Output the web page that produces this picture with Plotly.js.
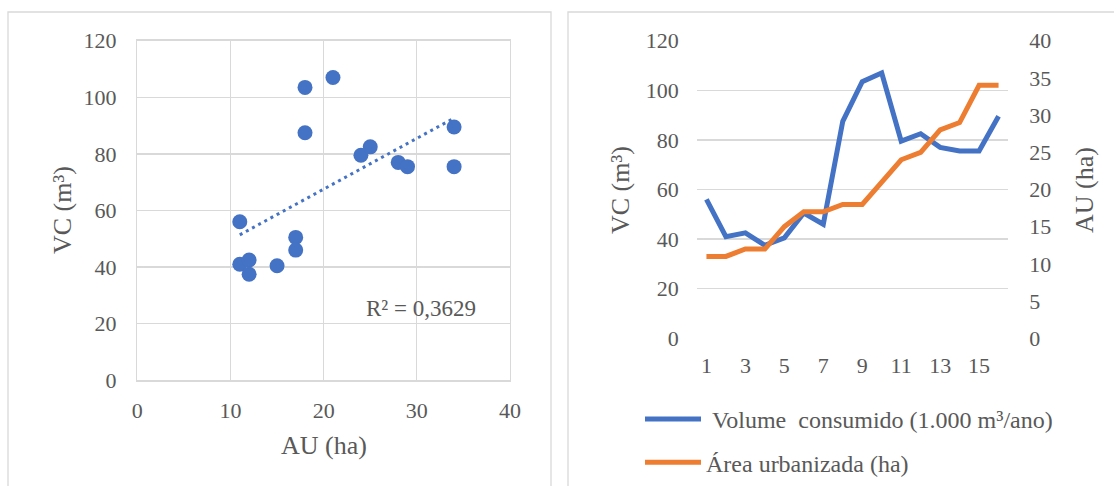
<!DOCTYPE html>
<html>
<head>
<meta charset="utf-8">
<script src="https://cdn.plot.ly/plotly-3.0.1.min.js"></script>
<style>html,body{margin:0;padding:0;background:#fff;}#chart{width:1114px;height:486px;}</style>
</head>
<body>
<div id="chart"></div>
<script>
// ---- data ----
var periods = [1,2,3,4,5,6,7,8,9,10,11,12,13,14,15,16];
var volumeConsumido = [56, 41, 42.5, 37.5, 40.5, 50.5, 46, 87.5, 103.5, 107, 79.5, 82.5, 77, 75.5, 75.5, 89.5];
var areaUrbanizada = [11, 11, 12, 12, 15, 17, 17, 18, 18, 21, 24, 25, 28, 29, 34, 34];
var seriesNames = ["\u00a0Volume\u00a0 consumido (1.000 m\u00b3/ano)", "\u00c1rea urbanizada (ha)"];
var xTicksRight = [1,3,5,7,9,11,13,15];
var r2Label = "R\u00b2 = 0,3629";

// linear trendline from the scatter values (least squares)
function fit(xs, ys){
  var n = xs.length, mx = 0, my = 0;
  for (var i=0;i<n;i++){mx+=xs[i];my+=ys[i];}
  mx/=n; my/=n;
  var sxy=0,sxx=0;
  for (var j=0;j<n;j++){sxy+=(xs[j]-mx)*(ys[j]-my);sxx+=(xs[j]-mx)*(xs[j]-mx);}
  var b=sxy/sxx, a=my-b*mx;
  return function(x){return a+b*x;};
}
var f = fit(areaUrbanizada, volumeConsumido);
var xmin = Math.min.apply(null, areaUrbanizada), xmax = Math.max.apply(null, areaUrbanizada);
var trendX = [xmin, xmax];
var trendY = trendX.map(f);

var BLUE = "#4472C4", ORANGE = "#ED7D31", GRID = "#d9d9d9", TXT = "#595959";
var FONT = "Liberation Serif";
var W = 1114, H = 486;
function px(x){return x/W;}
function py(y){return 1 - y/H;}
function tf(){return {family: FONT, size: 22, color: TXT};}

var traces = [
  {x: areaUrbanizada, y: volumeConsumido, type: "scatter", mode: "markers",
   marker: {color: BLUE, size: 15}, xaxis: "x", yaxis: "y", showlegend: false},
  {x: trendX, y: trendY, type: "scatter", mode: "lines",
   line: {color: BLUE, width: 3, dash: "3px,4px"}, xaxis: "x", yaxis: "y", showlegend: false},
  {x: periods, y: volumeConsumido, type: "scatter", mode: "lines", name: seriesNames[0],
   line: {color: BLUE, width: 5}, xaxis: "x2", yaxis: "y2", legendgroup: "a"},
  {x: periods, y: areaUrbanizada, type: "scatter", mode: "lines", name: seriesNames[1],
   line: {color: ORANGE, width: 5}, xaxis: "x2", yaxis: "y3", legendgroup: "b"}
];

var layout = {
  width: W, height: H,
  margin: {l: 0, r: 0, t: 0, b: 0},
  paper_bgcolor: "#fff", plot_bgcolor: "rgba(0,0,0,0)",
  font: {family: FONT, color: TXT, size: 22},
  xaxis: {domain: [px(137.3), px(510)], range: [0, 40], dtick: 10, tick0: 0,
          showgrid: true, gridcolor: GRID, gridwidth: 1.3, zeroline: false,
          showline: true, mirror: true, linecolor: GRID, linewidth: 1.3,
          ticks: "", tickfont: tf(), ticklabelstandoff: 10, automargin: false, anchor: "y"},
  yaxis: {domain: [py(380.3), py(40.7)], range: [0, 120], dtick: 20, tick0: 0,
          showgrid: true, gridcolor: GRID, gridwidth: 1.3, zeroline: false,
          showline: true, mirror: true, linecolor: GRID, linewidth: 1.3,
          ticks: "", tickfont: tf(), ticklabelstandoff: 15, automargin: false, anchor: "x"},
  xaxis2: {domain: [px(696.7), px(1008.3)], range: [0.5, 16.5], tickvals: xTicksRight,
           showgrid: false, zeroline: false, showline: false,
           ticks: "", tickfont: tf(), ticklabelstandoff: 12, automargin: false, anchor: "y2"},
  yaxis2: {domain: [py(338.3), py(40.7)], range: [0, 120], dtick: 20, tick0: 0,
           showgrid: true, gridcolor: GRID, gridwidth: 1.3, zeroline: false, showline: false,
           ticks: "", tickfont: tf(), ticklabelstandoff: 17, automargin: false, anchor: "x2"},
  yaxis3: {domain: [py(338.3), py(40.7)], range: [0, 40], dtick: 5, tick0: 0,
           overlaying: "y2", side: "right", anchor: "x2",
           showgrid: false, zeroline: false, showline: false,
           ticks: "", tickfont: tf(), ticklabelstandoff: 20, automargin: false},
  showlegend: true,
  legend: {x: px(640), y: py(397), xanchor: "left", yanchor: "top",
           font: {family: FONT, size: 24, color: TXT}, tracegroupgap: 9,
           bgcolor: "rgba(0,0,0,0)", itemwidth: 56},
  annotations: [
    {text: "VC (m\u00b3)", xref: "paper", yref: "paper", x: px(63), y: py(210), textangle: -90,
     showarrow: false, xanchor: "center", yanchor: "middle", font: {family: FONT, size: 26, color: TXT}},
    {text: "AU (ha)", xref: "paper", yref: "paper", x: px(324), y: py(445),
     showarrow: false, xanchor: "center", yanchor: "middle", font: {family: FONT, size: 26, color: TXT}},
    {text: "VC (m\u00b3)", xref: "paper", yref: "paper", x: px(620), y: py(190), textangle: -90,
     showarrow: false, xanchor: "center", yanchor: "middle", font: {family: FONT, size: 26, color: TXT}},
    {text: "AU (ha)", xref: "paper", yref: "paper", x: px(1084), y: py(190), textangle: -90,
     showarrow: false, xanchor: "center", yanchor: "middle", font: {family: FONT, size: 26, color: TXT}},
    {text: r2Label, xref: "paper", yref: "paper", x: px(364), y: py(308),
     showarrow: false, xanchor: "left", yanchor: "middle", font: {family: FONT, size: 23, color: TXT}}
  ],
  shapes: [
    {type: "rect", xref: "paper", yref: "paper", x0: px(8), x1: px(551), y0: -0.2, y1: py(12),
     line: {color: GRID, width: 1.3}, fillcolor: "rgba(0,0,0,0)", layer: "below"},
    {type: "rect", xref: "paper", yref: "paper", x0: px(568), x1: 1.2, y0: -0.2, y1: py(12),
     line: {color: GRID, width: 1.3}, fillcolor: "rgba(0,0,0,0)", layer: "below"}
  ]
};

Plotly.newPlot("chart", traces, layout, {displayModeBar: false, staticPlot: true});
</script>
</body>
</html>
